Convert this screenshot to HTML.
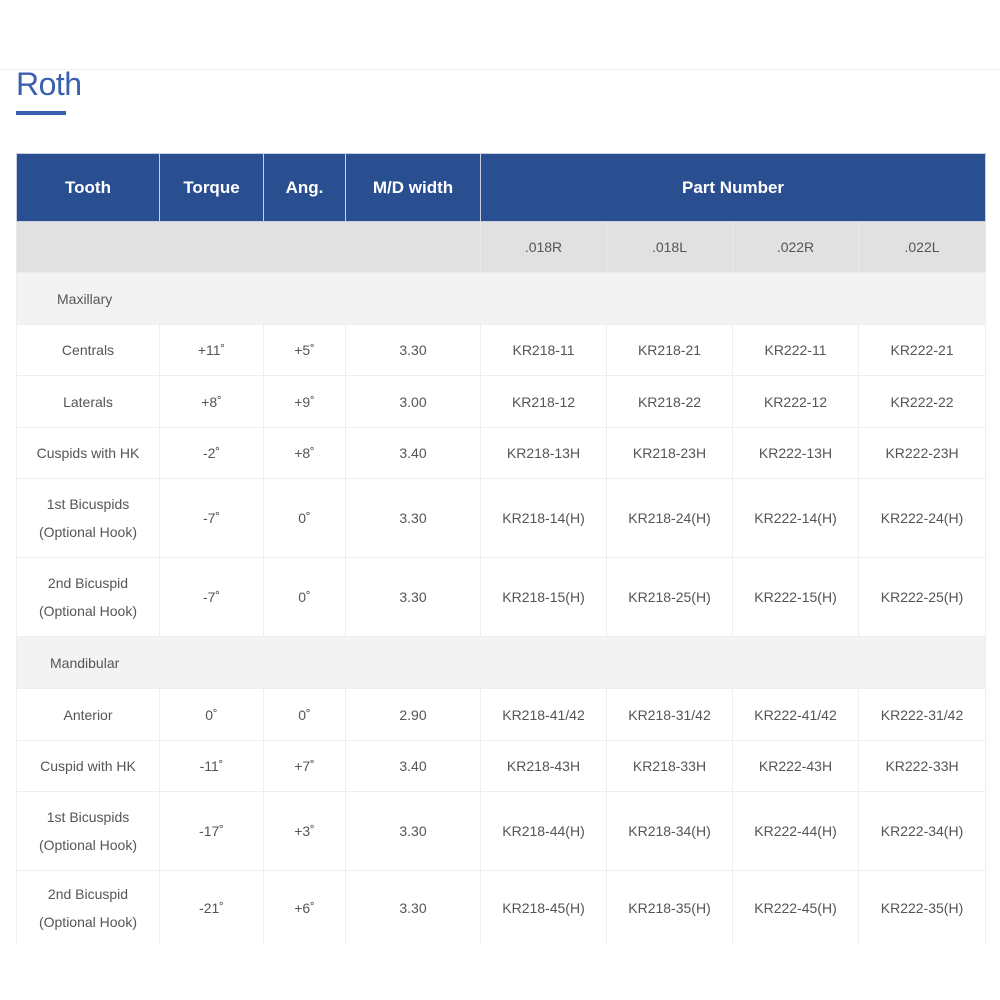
<!DOCTYPE html>
<html><head><meta charset="utf-8"><style>
body{margin:0;width:1000px;height:1000px;background:#fff;font-family:"Liberation Sans",sans-serif;position:relative;overflow:hidden}
.top{position:absolute;left:0;top:69px;width:1000px;height:1px;background:#eee}
h1{position:absolute;left:16px;top:66px;margin:0;font-weight:normal;font-size:32px;color:#3a5fb0;letter-spacing:-0.5px}
.ul{position:absolute;left:16px;top:111px;width:50px;height:4px;background:#3a5fb0}
table{position:absolute;left:16px;top:153px;border-collapse:collapse;table-layout:fixed;width:969px}
td,th{border:1px solid #eee;text-align:center;color:#555;font-size:14px;padding:0;line-height:28px}
th{background:#2a4f91;color:#fff;font-size:17px;font-weight:bold;border:1px solid #c8d0e0;height:67px}
tr.sub td{background:#e1e1e1;border-color:#ebebeb}
tr.grp td{background:#f3f3f3;text-align:left;padding-left:40px}
</style></head><body>
<div class="top"></div>
<h1>Roth</h1><div class="ul"></div>
<table>
<colgroup><col style="width:143px"><col style="width:104px"><col style="width:82px"><col style="width:135px"><col style="width:126px"><col style="width:126px"><col style="width:126px"><col style="width:127px"></colgroup>
<tr><th>Tooth</th><th>Torque</th><th>Ang.</th><th>M/D width</th><th colspan="4">Part Number</th></tr>
<tr class="sub" style="height:51px"><td colspan="4"></td><td>.018R</td><td>.018L</td><td>.022R</td><td>.022L</td></tr>
<tr class="grp" style="height:52px"><td colspan="8">Maxillary</td></tr>
<tr style="height:51px"><td>Centrals</td><td>+11˚</td><td>+5˚</td><td>3.30</td><td>KR218-11</td><td>KR218-21</td><td>KR222-11</td><td>KR222-21</td></tr>
<tr style="height:52px"><td>Laterals</td><td>+8˚</td><td>+9˚</td><td>3.00</td><td>KR218-12</td><td>KR218-22</td><td>KR222-12</td><td>KR222-22</td></tr>
<tr style="height:51px"><td>Cuspids with HK</td><td>-2˚</td><td>+8˚</td><td>3.40</td><td>KR218-13H</td><td>KR218-23H</td><td>KR222-13H</td><td>KR222-23H</td></tr>
<tr style="height:79px"><td>1st Bicuspids<br>(Optional Hook)</td><td>-7˚</td><td>0˚</td><td>3.30</td><td>KR218-14(H)</td><td>KR218-24(H)</td><td>KR222-14(H)</td><td>KR222-24(H)</td></tr>
<tr style="height:79px"><td>2nd Bicuspid<br>(Optional Hook)</td><td>-7˚</td><td>0˚</td><td>3.30</td><td>KR218-15(H)</td><td>KR218-25(H)</td><td>KR222-15(H)</td><td>KR222-25(H)</td></tr>
<tr class="grp" style="height:52px"><td colspan="8" style="padding-left:33px">Mandibular</td></tr>
<tr style="height:52px"><td>Anterior</td><td>0˚</td><td>0˚</td><td>2.90</td><td>KR218-41/42</td><td>KR218-31/42</td><td>KR222-41/42</td><td>KR222-31/42</td></tr>
<tr style="height:51px"><td>Cuspid with HK</td><td>-11˚</td><td>+7˚</td><td>3.40</td><td>KR218-43H</td><td>KR218-33H</td><td>KR222-43H</td><td>KR222-33H</td></tr>
<tr style="height:79px"><td>1st Bicuspids<br>(Optional Hook)</td><td>-17˚</td><td>+3˚</td><td>3.30</td><td>KR218-44(H)</td><td>KR218-34(H)</td><td>KR222-44(H)</td><td>KR222-34(H)</td></tr>
<tr style="height:74px"><td style="border-bottom:none">2nd Bicuspid<br>(Optional Hook)</td><td style="border-bottom:none">-21˚</td><td style="border-bottom:none">+6˚</td><td style="border-bottom:none">3.30</td><td style="border-bottom:none">KR218-45(H)</td><td style="border-bottom:none">KR218-35(H)</td><td style="border-bottom:none">KR222-45(H)</td><td style="border-bottom:none">KR222-35(H)</td></tr>
</table>
</body></html>
